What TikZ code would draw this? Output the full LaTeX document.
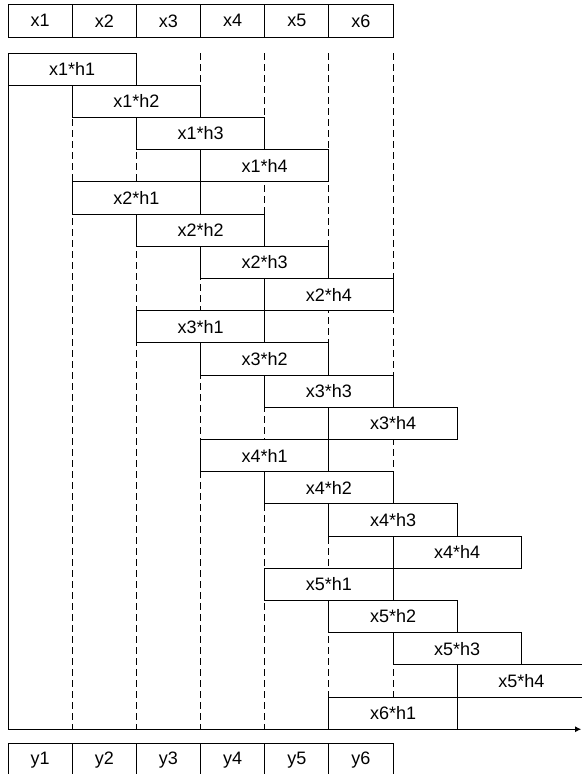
\documentclass[tikz,border=0pt]{standalone}
\usepackage{fontspec}
\setmainfont{Liberation Sans}
\usetikzlibrary{arrows.meta}

\begin{document}
\begin{tikzpicture}[
    x=64.17pt, y=-32.2pt,
    font=\fontsize{18}{18}\selectfont,
    cell/.style={rectangle, draw, line width=0.8pt, minimum width=64.17pt, minimum height=32.2pt, inner sep=0pt, outer sep=0pt},
    prod/.style={rectangle, draw, fill=white, line width=0.8pt, minimum width=128.34pt, minimum height=32.2pt, inner sep=0pt, outer sep=0pt},
    guide/.style={line width=0.8pt, dash pattern=on 7pt off 4pt}
]
\useasboundingbox (-0.1247,-1.646) rectangle (8.93,22.39);

% Input row
\node[cell] (x1) at (0.5,-1) {x1};
\node[cell] (x2) at (1.5,-1) {x2};
\node[cell] (x3) at (2.5,-1) {x3};
\node[cell] (x4) at (3.5,-1) {x4};
\node[cell] (x5) at (4.5,-1) {x5};
\node[cell] (x6) at (5.5,-1) {x6};

% Guides
\draw[guide] (1,0) -- (1,21);
\draw[guide] (2,0) -- (2,21);
\draw[guide] (3,0) -- (3,21);
\draw[guide] (4,0) -- (4,21);
\draw[guide] (5,0) -- (5,21);
\draw[guide] (6,0) -- (6,21);

% Products
\node[prod] (p11) at (1,0.5) {x1*h1};
\node[prod] (p12) at (2,1.5) {x1*h2};
\node[prod] (p13) at (3,2.5) {x1*h3};
\node[prod] (p14) at (4,3.5) {x1*h4};
\node[prod] (p21) at (2,4.5) {x2*h1};
\node[prod] (p22) at (3,5.5) {x2*h2};
\node[prod] (p23) at (4,6.5) {x2*h3};
\node[prod] (p24) at (5,7.5) {x2*h4};
\node[prod] (p31) at (3,8.5) {x3*h1};
\node[prod] (p32) at (4,9.5) {x3*h2};
\node[prod] (p33) at (5,10.5) {x3*h3};
\node[prod] (p34) at (6,11.5) {x3*h4};
\node[prod] (p41) at (4,12.5) {x4*h1};
\node[prod] (p42) at (5,13.5) {x4*h2};
\node[prod] (p43) at (6,14.5) {x4*h3};
\node[prod] (p44) at (7,15.5) {x4*h4};
\node[prod] (p51) at (5,16.5) {x5*h1};
\node[prod] (p52) at (6,17.5) {x5*h2};
\node[prod] (p53) at (7,18.5) {x5*h3};
\node[prod] (p54) at (8,19.5) {x5*h4};
\node[prod] (p61) at (6,20.5) {x6*h1};

% Axes
\coordinate (top) at (0,0);
\coordinate (origin) at (0,21);
\coordinate (tip) at (8.93,21);
\draw[line width=0.8pt] (top) -- (origin);
\draw[-{Latex[length=6pt,width=6pt]}, line width=0.8pt] (origin) -- (tip);

% Output row
\node[cell] (y1) at (0.5,21.95) {y1};
\node[cell] (y2) at (1.5,21.95) {y2};
\node[cell] (y3) at (2.5,21.95) {y3};
\node[cell] (y4) at (3.5,21.95) {y4};
\node[cell] (y5) at (4.5,21.95) {y5};
\node[cell] (y6) at (5.5,21.95) {y6};
\end{tikzpicture}
\end{document}
